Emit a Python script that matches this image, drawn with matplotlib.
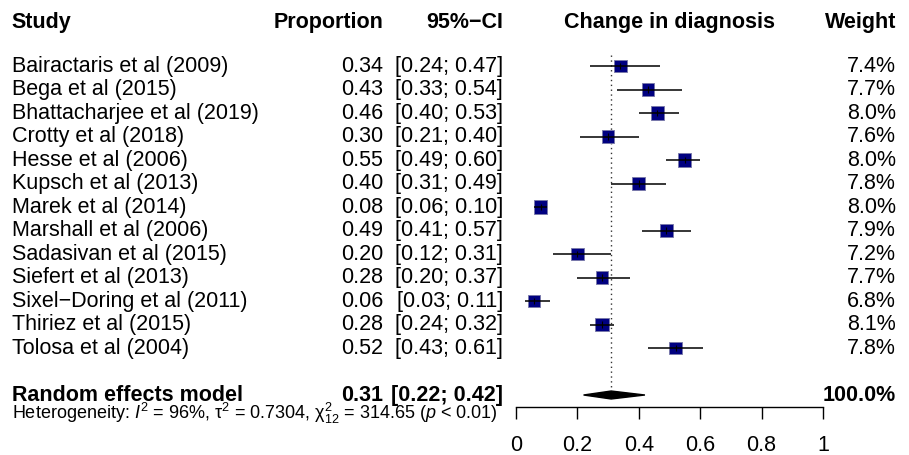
import numpy as np
import matplotlib
matplotlib.use("Agg")
import matplotlib.pyplot as plt

plt.rcParams["font.family"] = ["Liberation Sans", "DejaVu Sans"]
plt.rcParams["mathtext.fontset"] = "custom"
plt.rcParams["mathtext.rm"] = "Liberation Sans"
plt.rcParams["mathtext.it"] = "Liberation Sans:italic"
plt.rcParams["mathtext.bf"] = "Liberation Sans:bold"

studies = [
    "Bairactaris et al (2009)",
    "Bega et al (2015)",
    "Bhattacharjee et al (2019)",
    "Crotty et al (2018)",
    "Hesse et al (2006)",
    "Kupsch et al (2013)",
    "Marek et al (2014)",
    "Marshall et al (2006)",
    "Sadasivan et al (2015)",
    "Siefert et al (2013)",
    "Sixel\u2212Doring et al (2011)",
    "Thiriez et al (2015)",
    "Tolosa et al (2004)",
]
prop = [0.34, 0.43, 0.46, 0.30, 0.55, 0.40, 0.08, 0.49, 0.20, 0.28, 0.06, 0.28, 0.52]
lower = [0.24, 0.33, 0.40, 0.21, 0.49, 0.31, 0.06, 0.41, 0.12, 0.20, 0.03, 0.24, 0.43]
upper = [0.47, 0.54, 0.53, 0.40, 0.60, 0.49, 0.10, 0.57, 0.31, 0.37, 0.11, 0.32, 0.61]
weight = [7.4, 7.7, 8.0, 7.6, 8.0, 7.8, 8.0, 7.9, 7.2, 7.7, 6.8, 8.1, 7.8]

pooled = 0.31
pooled_lo = 0.22
pooled_hi = 0.42
ticks = [0, 0.2, 0.4, 0.6, 0.8, 1]
tick_labels = ["0", "0.2", "0.4", "0.6", "0.8", "1"]
hetero = (r"Heterogeneity: $I^2$ = 96%, $\mathrm{\tau}^2$ = 0.7304, "
          r"$\mathrm{\chi}^2_{12}$ = 314.65 ($p$ < 0.01)")

fig = plt.figure(figsize=(9.09, 4.56), dpi=100)
ax = fig.add_axes([0, 0, 1, 1])
# x in proportion units, y in row units (row 0 = first study)
ax.set_xlim(-516 / 307, (909 - 516) / 307)
ax.set_ylim((456 - 67) / 23.5, -67 / 23.5)
ax.axis("off")

fs = 15.5
x_study, x_prop, x_ci, x_w = -1.642, -0.433, -0.042, 1.238
n = len(studies)
rows = np.arange(n)
y_pool = 14.0
b = 0.21  # baseline offset below row centre


def txt(x, y, s, ha="left", bold=False, size=fs):
    ax.text(x, y + b, s, fontsize=size, ha=ha, va="baseline",
            fontweight="bold" if bold else "normal")


# header
y_head = -1.89
txt(x_study, y_head, "Study", bold=True)
txt(x_prop, y_head, "Proportion", ha="right", bold=True)
txt(x_ci, y_head, "95%\u2212CI", ha="right", bold=True)
txt(0.5, y_head, "Change in diagnosis", ha="center", bold=True)
txt(x_w, y_head, "Weight", ha="right", bold=True)

# study rows
for i in rows:
    txt(x_study, i, studies[i])
    txt(x_prop, i, f"{prop[i]:.2f}", ha="right")
    txt(x_ci, i, f"[{lower[i]:.2f}; {upper[i]:.2f}]", ha="right")
    txt(x_w, i, f"{weight[i]:.1f}%", ha="right")

# reference line at pooled estimate
ax.plot([pooled, pooled], [-0.45, y_pool - 0.2], color="#333333", lw=1, ls=(0, (1, 2.5)))

sizes = (9.4 * np.sqrt(np.array(weight) / 8.0)) ** 2
ax.scatter(prop, rows, s=sizes, marker="s", color="#000080",
           edgecolors="#7878a8", linewidths=0.6, zorder=3)
ax.hlines(rows, lower, upper, color="black", lw=1.1, zorder=4)
ax.vlines(prop, rows - 0.13, rows + 0.13, color="black", lw=0.8, zorder=4)

# pooled row
txt(x_study, y_pool, "Random effects model", bold=True)
txt(x_prop, y_pool, f"{pooled:.2f}", ha="right", bold=True)
txt(x_ci, y_pool, f"[{pooled_lo:.2f}; {pooled_hi:.2f}]", ha="right", bold=True)
txt(x_w, y_pool, "100.0%", ha="right", bold=True)
ax.fill([pooled_lo, pooled, pooled_hi, pooled],
        [y_pool, y_pool - 0.17, y_pool, y_pool + 0.17], color="black", zorder=4)

txt(x_study, 14.77, hetero, size=13)

# x axis
y_ax = 14.51
ax.plot([ticks[0], ticks[-1]], [y_ax, y_ax], color="black", lw=1)
ax.vlines(ticks, y_ax, y_ax + 0.5, color="black", lw=1)
for t, lab in zip(ticks, tick_labels):
    txt(t, 16.15, lab, ha="center")

fig.savefig("out.png", dpi=100)
